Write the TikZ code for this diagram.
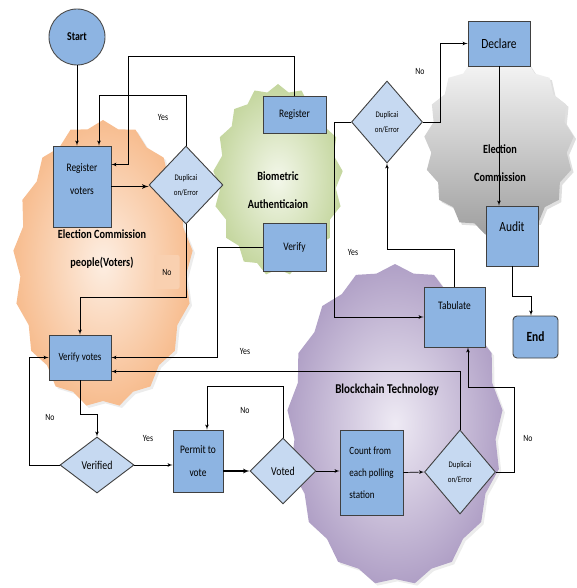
\documentclass[tikz,border=0pt]{standalone}
\usepackage{fontspec}
\setmainfont{Carlito}[FakeStretch=0.82]
\usetikzlibrary{shapes,arrows,shadows}
\definecolor{boxblue}{RGB}{141,180,226}
\definecolor{diablue}{RGB}{198,217,241}
\definecolor{peachin}{RGB}{253,238,226}
\definecolor{peachout}{RGB}{247,188,142}
\definecolor{sagein}{RGB}{243,247,234}
\definecolor{sageout}{RGB}{196,214,158}
\definecolor{lilacin}{RGB}{238,234,244}
\definecolor{lilacout}{RGB}{176,160,198}
\tikzstyle{block} = [rectangle, draw=black!75, fill=boxblue, line width=0.9pt,
    align=center, font=\fontsize{11.5}{23}\selectfont]
\tikzstyle{decision} = [diamond, draw=black!75, fill=diablue, line width=0.9pt,
    align=center, inner sep=0pt, font=\fontsize{8.5}{15}\selectfont]
\tikzstyle{line} = [draw, -latex', line width=0.7pt]
\tikzstyle{blob} = [starburst, starburst points=17, starburst point height=7pt,
    random starburst=0, inner sep=0pt]
\tikzstyle{answer} = [font=\fontsize{9.5}{11}\selectfont]
\tikzstyle{title} = [align=center, font=\fontsize{12.5}{28}\selectfont\bfseries]

\begin{document}
\begin{tikzpicture}[x=1pt, y=-1pt]
		\useasboundingbox (0,0) rectangle (576,588);
		% background groups
		\node [blob, minimum width=180pt, minimum height=288pt, inner color=peachin,
		    outer color=peachout, drop shadow={opacity=0.15}] (ecp) at (103,264) {};
		\node [blob, minimum width=130pt, minimum height=192pt, inner color=sagein,
		    outer color=sageout] (bio) at (278,180) {};
		\node [blob, minimum width=150pt, minimum height=182pt, top color=gray!5,
		    bottom color=gray!75, drop shadow={opacity=0.25}] (ec) at (499,145) {};
		\node [blob, minimum width=216pt, minimum height=322pt, inner color=lilacin,
		    outer color=lilacout, drop shadow={opacity=0.15}] (bc) at (395,425) {};
		
		\node [title] (ecptxt) at (102,249) {Election Commission\\people(Voters)};
		\node [title] (biotxt) at (278,190) {Biometric\\Authenticaion};
		\node [title] (ectxt) at (500,163) {Election\\Commission};
		\node [title, font=\fontsize{13.5}{16}\selectfont\bfseries] (bctxt) at (387,390) {Blockchain Technology};
		
		% nodes
		\node [circle, draw=black!70, fill=boxblue, line width=0.9pt, minimum size=56pt,
		    font=\fontsize{12}{14}\selectfont\bfseries] (start) at (77,37) {Start};
		\node [block, minimum width=58pt, minimum height=81pt, text depth=14pt] (regv) at (82,186.5) {Register\\voters};
		\node [decision, minimum width=74pt, minimum height=78pt] (dup1) at (186,185) {Duplicai\\on/Error};
		\node [block, minimum width=63pt, minimum height=37pt] (reg) at (294.5,114.5) {Register};
		\node [block, minimum width=63pt, minimum height=48pt] (ver) at (294.5,247) {Verify};
		\node [decision, minimum width=71pt, minimum height=82pt] (dup2) at (387,122) {Duplicai\\on/Error};
		\node [block, minimum width=62pt, minimum height=45pt, font=\fontsize{14}{16}\selectfont] (dec) at (499,43.5) {Declare};
		\node [block, minimum width=52pt, minimum height=60pt, text depth=18pt, font=\fontsize{14}{16}\selectfont] (aud) at (512,236) {Audit};
		\node [block, minimum width=61pt, minimum height=60pt, text depth=22pt] (tab) at (454.5,317) {Tabulate};
		\node [block, rounded corners=4pt, minimum width=45pt, minimum height=42pt,
		    font=\fontsize{14}{16}\selectfont\bfseries] (end) at (535.5,337) {End};
		\node [block, minimum width=62pt, minimum height=45pt, font=\fontsize{11}{13}\selectfont] (vv) at (80,357.5) {Verify votes};
		\node [decision, minimum width=74pt, minimum height=56pt, font=\fontsize{12}{14}\selectfont] (vd) at (97,465) {Verified};
		\node [block, minimum width=50pt, minimum height=62pt] (pv) at (198,461) {Permit to\\vote};
		\node [decision, minimum width=66pt, minimum height=66pt, font=\fontsize{12}{14}\selectfont] (voted) at (283,471) {Voted};
		\node [block, minimum width=63pt, minimum height=85pt, align=left, font=\fontsize{11}{22}\selectfont] (cnt) at (371.5,472.5) {Count from\\each polling\\station};
		\node [decision, minimum width=71pt, minimum height=84pt] (dup3) at (460,472) {Duplicai\\on/Error};
		
		% answers
		\node [answer] (yes1) at (163,117) {Yes};
		\node [answer, fill=peachout!70, rounded corners=2pt, minimum width=25pt, minimum height=34pt] (no1) at (167,272) {No};
		\node [answer] (yes2) at (245,351) {Yes};
		\node [answer] (no2) at (50,417) {No};
		\node [answer] (yes3) at (148,438) {Yes};
		\node [answer] (no3) at (245,410) {No};
		\node [answer] (no4) at (528,438) {No};
		\node [answer] (yes4) at (353,252) {Yes};
		\node [answer] (no5) at (420,71) {No};
		
		% connectors
		\path [line] (start.south) -- (start.south |- regv.north);
		\path [line] (dup1.north) -- ++(0,-50) -| ([xshift=17pt]regv.north);
		\path [line] (reg.north) -- ++(0,-39) -- ++(-166.5,0) |- ([yshift=22pt]regv.east);
		\path [line, line width=1.2pt] (regv.east) -- (regv.east -| dup1.west);
		\path [line] (dup1.south) -- ++(0,73) -| (vv.north);
		\path [line] (ver.west) -- ++(-45,0) |- (vv.east);
		\path [line] (dup3.north) |- ([yshift=-14pt]vv.east);
		\path [line] (vv.south) -- ++(0,34) -| (vd.north);
		\path [line] (vd.west) -- ++(-30,0) |- (vv.west);
		\path [line] (vd.east) -- (vd.east -| pv.west);
		\path [line, line width=1.2pt] (pv.east |- voted.west) -- (voted.west);
		\path [line] (voted.north) -- ++(0,-51) -| ([xshift=9pt]pv.north);
		\path [line] (voted.east) -- (voted.east -| cnt.west);
		\path [line] (cnt.east) -- (dup3.west);
		\path [line] (dup3.east) -- ++(18,0) -- ++(0,-85) -| ([xshift=13.5pt]tab.south);
		\path [line] (dup2.west) -- ++(-17,0) |- (tab.west);
		\path [line] (tab.north) -- ++(0,-37) -| (dup2.south);
		\path [line] (dup2.east) -- ++(17,0) |- (dec.west);
		\path [line] (dec.south) -- (dec.south |- aud.north);
		\path [line] (aud.south) -- ++(0,30) -| ([xshift=-4.5pt]end.north);
	\end{tikzpicture}
\end{document}
